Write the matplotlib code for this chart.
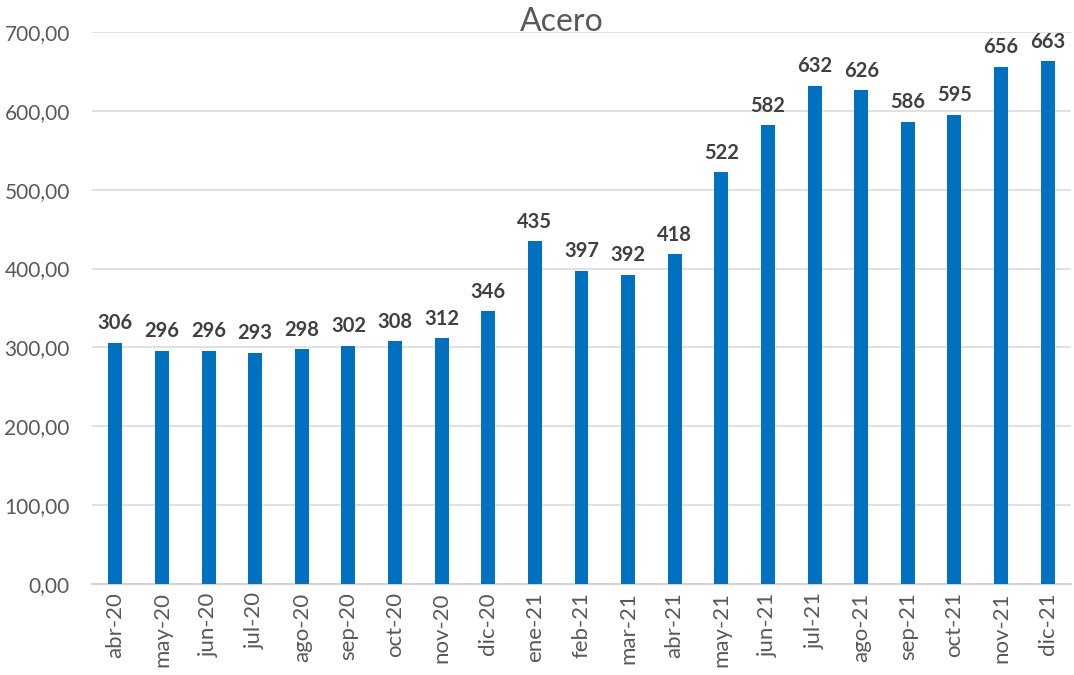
import matplotlib
matplotlib.use("Agg")
import matplotlib.pyplot as plt
from matplotlib.ticker import FuncFormatter

categories = ["abr-20", "may-20", "jun-20", "jul-20", "ago-20", "sep-20", "oct-20",
              "nov-20", "dic-20", "ene-21", "feb-21", "mar-21", "abr-21", "may-21",
              "jun-21", "jul-21", "ago-21", "sep-21", "oct-21", "nov-21", "dic-21"]
values = [306, 296, 296, 293, 298, 302, 308, 312, 346, 435, 397, 392, 418, 522,
          582, 632, 626, 586, 595, 656, 663]
title = "Acero"

plt.rcParams['font.family'] = ['Lato', 'DejaVu Sans']

fig = plt.figure(figsize=(10.74, 6.75), dpi=100)
ax = fig.add_axes([92/1074, 1 - 584/675, (1071-92)/1074, (584-32)/675])

x = list(range(len(categories)))
bars = ax.bar(x, values, width=0.3, color="#0070C0", zorder=3)
for xi, v in zip(x, values):
    ax.text(xi, v + 12, f"{v}", ha="center", va="bottom", fontsize=14.5,
            fontweight="bold", color="#404040")

ax.set_xlim(-0.5, len(categories) - 0.5)
ax.set_ylim(0, 700)
ax.set_yticks(range(0, 701, 100))
ax.yaxis.set_major_formatter(FuncFormatter(lambda v, p: f"{v:.2f}".replace(".", ",")))
ax.grid(axis="y", color="#DCDCDC", linewidth=1.2, zorder=0)
for s in ["top", "right", "left"]:
    ax.spines[s].set_visible(False)
ax.spines["bottom"].set_color("#D0D0D0")
ax.spines["bottom"].set_linewidth(1.3)
ax.set_xticks(x)
ax.set_xticklabels(categories, rotation=90, fontsize=16, color="#595959")
ax.tick_params(axis="y", labelsize=15, labelcolor="#595959", length=0, pad=16)
ax.tick_params(axis="x", length=0, pad=6)
fig.text(562/1074, 1 - 22/675, title, ha="center", va="center", fontsize=23, color="#595959")

fig.savefig("out.png", dpi=100)
